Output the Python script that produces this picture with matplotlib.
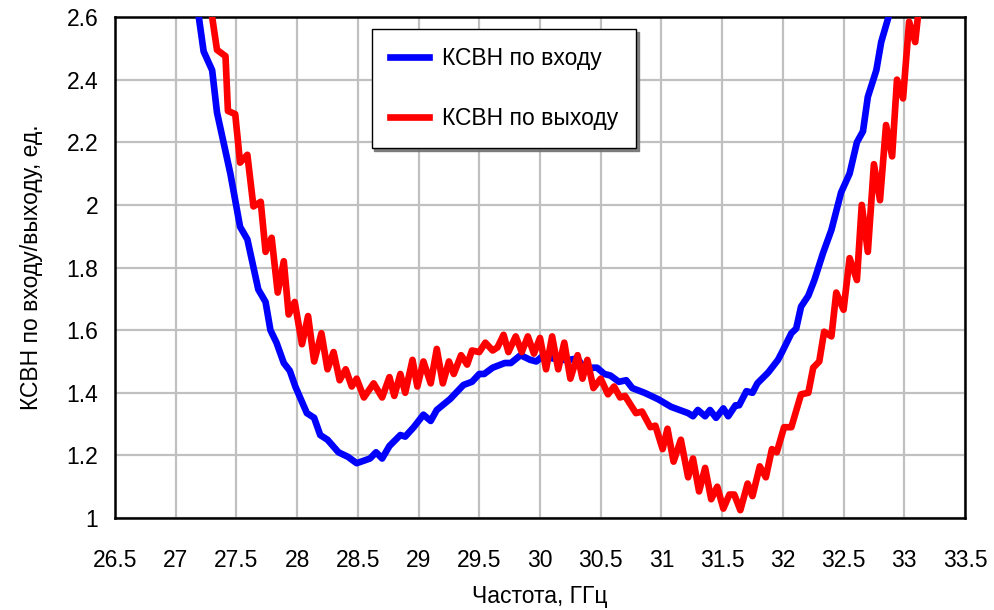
import matplotlib
matplotlib.use('Agg')
import matplotlib.pyplot as plt

plt.rcParams['font.family'] = ['Liberation Sans Narrow', 'Liberation Sans', 'DejaVu Sans']

# КСВН по входу (blue)
f_in = [27.15, 27.19, 27.23, 27.30, 27.34, 27.45, 27.53, 27.59, 27.68, 27.74,
        27.78, 27.83, 27.89, 27.94, 27.985, 28.08, 28.14, 28.19, 28.25, 28.34,
        28.42, 28.49, 28.60, 28.65, 28.70, 28.76, 28.85, 28.89, 28.96, 29.04,
        29.10, 29.15, 29.26, 29.37, 29.44, 29.50, 29.54, 29.61, 29.71, 29.76,
        29.84, 29.92, 29.97, 30.03, 30.10, 30.18, 30.24, 30.31, 30.36, 30.47,
        30.53, 30.58, 30.65, 30.71, 30.76, 30.86, 30.97, 31.08, 31.22, 31.26,
        31.30, 31.36, 31.40, 31.45, 31.51, 31.55, 31.61, 31.64, 31.70, 31.75,
        31.79, 31.88, 31.96, 32.00, 32.07, 32.11, 32.15, 32.21, 32.26, 32.33,
        32.40, 32.48, 32.55, 32.61, 32.66, 32.70, 32.77, 32.81, 32.87, 32.92]
vswr_in = [2.75, 2.60, 2.49, 2.43, 2.295, 2.10, 1.93, 1.89, 1.73, 1.69,
           1.60, 1.56, 1.495, 1.47, 1.42, 1.335, 1.32, 1.265, 1.25, 1.21,
           1.195, 1.175, 1.19, 1.21, 1.19, 1.23, 1.265, 1.26, 1.29, 1.33,
           1.31, 1.345, 1.38, 1.425, 1.435, 1.46, 1.46, 1.48, 1.495, 1.495,
           1.52, 1.505, 1.50, 1.52, 1.51, 1.505, 1.505, 1.51, 1.48, 1.48,
           1.46, 1.455, 1.435, 1.44, 1.415, 1.40, 1.38, 1.355, 1.335, 1.325,
           1.345, 1.325, 1.345, 1.32, 1.35, 1.325, 1.36, 1.36, 1.405, 1.40,
           1.43, 1.465, 1.505, 1.535, 1.59, 1.605, 1.675, 1.71, 1.76, 1.845,
           1.92, 2.04, 2.10, 2.20, 2.235, 2.345, 2.43, 2.52, 2.60, 2.72]

# КСВН по выходу (red)
f_out = [27.27, 27.30, 27.34, 27.41, 27.43, 27.49, 27.53, 27.59, 27.64, 27.70,
         27.74, 27.79, 27.84, 27.89, 27.93, 27.98, 28.04, 28.09, 28.14, 28.20,
         28.25, 28.30, 28.35, 28.40, 28.45, 28.49, 28.55, 28.63, 28.70, 28.76,
         28.80, 28.85, 28.89, 28.95, 28.99, 29.04, 29.10, 29.15, 29.20, 29.25,
         29.29, 29.35, 29.40, 29.44, 29.50, 29.55, 29.61, 29.65, 29.70, 29.74,
         29.80, 29.85, 29.90, 29.95, 30.00, 30.05, 30.10, 30.15, 30.20, 30.25,
         30.31, 30.35, 30.39, 30.44, 30.50, 30.56, 30.61, 30.66, 30.70, 30.79,
         30.84, 30.91, 30.95, 31.01, 31.05, 31.10, 31.16, 31.22, 31.26, 31.31,
         31.36, 31.41, 31.46, 31.51, 31.56, 31.60, 31.65, 31.71, 31.75, 31.81,
         31.86, 31.91, 31.95, 32.01, 32.07, 32.15, 32.21, 32.25, 32.30, 32.34,
         32.40, 32.44, 32.50, 32.55, 32.61, 32.65, 32.70, 32.75, 32.80, 32.85,
         32.90, 32.94, 32.99, 33.04, 33.09, 33.14]
vswr_out = [2.70, 2.60, 2.495, 2.475, 2.30, 2.29, 2.135, 2.16, 1.995, 2.01,
            1.85, 1.895, 1.72, 1.82, 1.65, 1.69, 1.555, 1.645, 1.50, 1.59,
            1.475, 1.53, 1.44, 1.475, 1.42, 1.445, 1.385, 1.43, 1.385, 1.45,
            1.39, 1.46, 1.40, 1.505, 1.42, 1.50, 1.43, 1.54, 1.43, 1.50,
            1.46, 1.52, 1.49, 1.535, 1.53, 1.56, 1.535, 1.545, 1.585, 1.53,
            1.58, 1.53, 1.58, 1.525, 1.575, 1.475, 1.58, 1.475, 1.56, 1.445,
            1.52, 1.445, 1.505, 1.415, 1.445, 1.395, 1.42, 1.385, 1.39, 1.335,
            1.34, 1.29, 1.295, 1.22, 1.285, 1.18, 1.25, 1.13, 1.19, 1.085,
            1.16, 1.06, 1.10, 1.03, 1.075, 1.075, 1.025, 1.11, 1.07, 1.165,
            1.13, 1.22, 1.21, 1.29, 1.29, 1.395, 1.40, 1.48, 1.50, 1.595,
            1.58, 1.72, 1.665, 1.83, 1.76, 2.00, 1.85, 2.13, 2.015, 2.255,
            2.155, 2.40, 2.34, 2.585, 2.52, 2.70]

xticks = [26.5, 27, 27.5, 28, 28.5, 29, 29.5, 30, 30.5, 31, 31.5, 32, 32.5, 33, 33.5]
xticklabels = ['26.5', '27', '27.5', '28', '28.5', '29', '29.5', '30', '30.5',
               '31', '31.5', '32', '32.5', '33', '33.5']
yticks = [1, 1.2, 1.4, 1.6, 1.8, 2, 2.2, 2.4, 2.6]
yticklabels = ['1', '1.2', '1.4', '1.6', '1.8', '2', '2.2', '2.4', '2.6']

fs = 16.5

fig = plt.figure(figsize=(9.94, 6.10), dpi=100)
ax = fig.add_axes([0.1157, 0.1508, 0.8551, 0.8213])

ax.plot(f_in, vswr_in, color='#0000ff', lw=4.8, label='КСВН по входу', zorder=3,
        solid_joinstyle='round')
ax.plot(f_out, vswr_out, color='#ff0000', lw=4.8, label='КСВН по выходу', zorder=4,
        solid_joinstyle='round')

ax.set_xlim(26.5, 33.5)
ax.set_ylim(1, 2.6)
ax.set_xticks(xticks)
ax.set_xticklabels(xticklabels)
ax.set_yticks(yticks)
ax.set_yticklabels(yticklabels)
ax.tick_params(axis='both', length=0, labelsize=fs)
ax.tick_params(axis='x', pad=22)
ax.tick_params(axis='y', pad=12)

ax.grid(True, color='#c0c0c0', lw=1.6)
ax.set_axisbelow(True)
for s in ax.spines.values():
    s.set_linewidth(1.8)
    s.set_color('black')

ax.set_xlabel('Частота, ГГц', fontsize=fs, labelpad=10)
ax.set_ylabel('КСВН по входу/выходу, ед.', fontsize=fs, labelpad=17)

leg = ax.legend(loc='upper left', bbox_to_anchor=(0.302, 0.976), fontsize=fs,
                frameon=True, fancybox=False, shadow={'color': '0.45', 'alpha': 0.9},
                edgecolor='black', framealpha=1, labelspacing=1.6,
                handlelength=1.7, handletextpad=0.55, borderpad=0.8,
                borderaxespad=0)
leg.get_frame().set_linewidth(1.0)
leg.set_zorder(10)

fig.savefig('out.png', dpi=100)
